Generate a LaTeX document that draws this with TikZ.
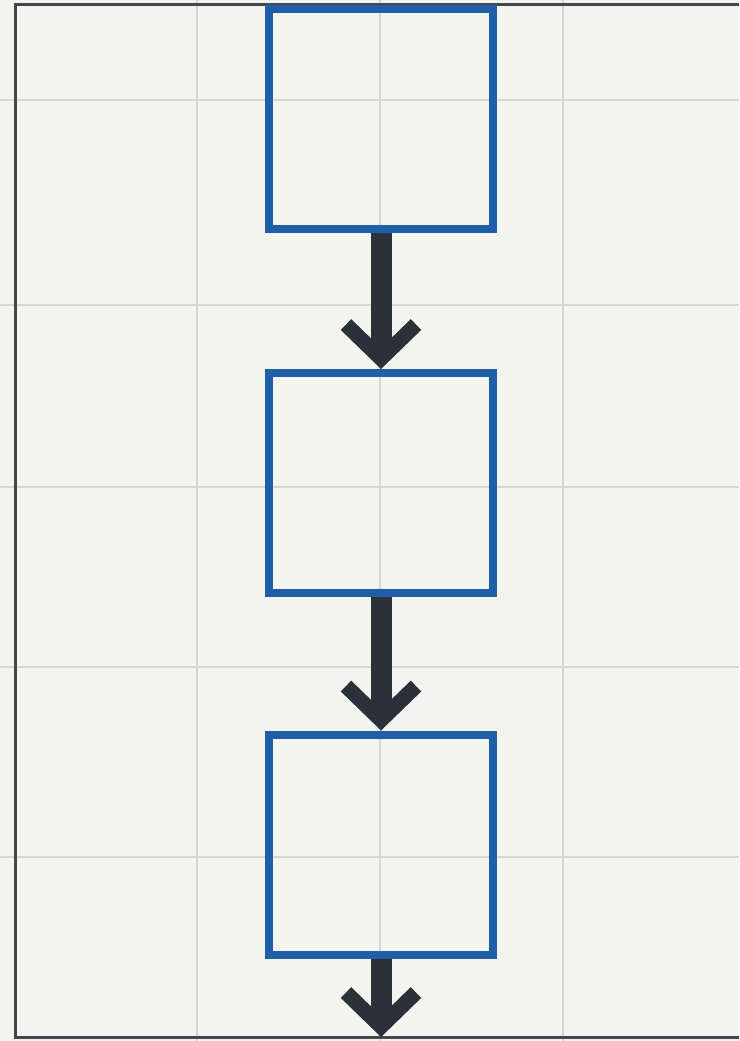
\documentclass[tikz,border=0pt]{standalone}
\usetikzlibrary{arrows.meta}
\definecolor{paper}{HTML}{F3F3EF}
\definecolor{gridc}{HTML}{D6D6D2}
\definecolor{framec}{HTML}{45474A}
\definecolor{boxblue}{HTML}{1F5FA8}
\definecolor{arrowc}{HTML}{2A3139}
\tikzset{
  x=1pt, y=-1pt,
  gridline/.style={draw=gridc, line width=2pt},
  frameline/.style={draw=framec, line width=3pt},
  stagebox/.style={draw=boxblue, line width=8pt, minimum width=224pt, minimum height=220pt, inner sep=0pt},
  flowarrow/.style={draw=arrowc, line width=21pt, -{Straight Barb[length=34pt, width=70pt, line width=15pt, line cap=butt]}}
}
\begin{document}
\begin{tikzpicture}
\useasboundingbox (0,0) rectangle (739,1041);
\fill[paper] (0,0) rectangle (739,1041);
% grid
\foreach \gx in {197,380,563} \draw[gridline] (\gx,0) -- (\gx,1041);
\foreach \gy in {100,305,487,667,857} \draw[gridline] (0,\gy) -- (739,\gy);
% frame
\draw[frameline] (739,5) -- (15,5) -- (15,1037) -- (739,1037);
% boxes
\node[stagebox] (b1) at (381,119) {};
\node[stagebox] (b2) at (381,483) {};
\node[stagebox] (b3) at (381,844.5) {};
\coordinate (end) at (381,1037);
% arrows
\draw[flowarrow] (b1.south) -- (b2.north);
\draw[flowarrow] (b2.south) -- (b3.north);
\draw[flowarrow] (b3.south) -- (end);
\end{tikzpicture}
\end{document}
